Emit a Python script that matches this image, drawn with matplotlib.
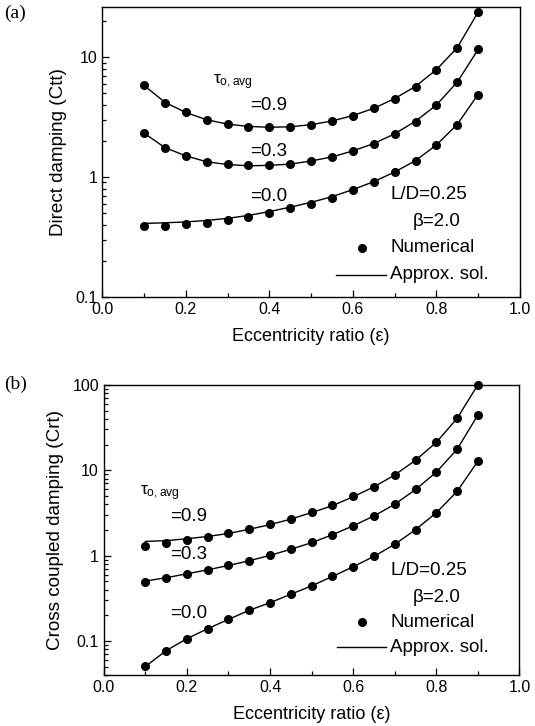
import numpy as np
import matplotlib
matplotlib.use('Agg')
import matplotlib.pyplot as plt
from matplotlib.ticker import MultipleLocator, LogLocator, NullFormatter

plt.rcParams['font.family'] = ['Liberation Sans', 'DejaVu Sans']
plt.rcParams['mathtext.fontset'] = 'custom'
plt.rcParams['mathtext.rm'] = 'Liberation Sans'
plt.rcParams['mathtext.it'] = 'Liberation Sans'

# eccentricity ratio
ecc = [0.1, 0.15, 0.2, 0.25, 0.3, 0.35, 0.4, 0.45, 0.5,
       0.55, 0.6, 0.65, 0.7, 0.75, 0.8, 0.85, 0.9]

# (a) direct damping Ctt - numerical points
ctt_09 = [5.82, 4.17, 3.45, 3.0, 2.75, 2.63, 2.60, 2.63, 2.73,
          2.92, 3.24, 3.73, 4.5, 5.68, 7.82, 11.9, 23.8]
ctt_03 = [2.32, 1.75, 1.50, 1.33, 1.28, 1.25, 1.26, 1.29, 1.36,
          1.47, 1.65, 1.90, 2.29, 2.90, 3.97, 6.15, 11.6]
ctt_00 = [0.387, 0.392, 0.404, 0.417, 0.44, 0.467, 0.50, 0.547, 0.601,
          0.673, 0.773, 0.906, 1.09, 1.36, 1.84, 2.72, 4.82]
# (a) approximate solution
ctt_09_ap = [5.8, 4.2, 3.45, 3.0, 2.76, 2.64, 2.60, 2.62, 2.73,
             2.93, 3.25, 3.74, 4.5, 5.7, 7.85, 12.0, 23.8]
ctt_03_ap = [2.32, 1.76, 1.50, 1.34, 1.27, 1.24, 1.25, 1.28, 1.36,
             1.47, 1.65, 1.90, 2.29, 2.92, 3.98, 6.2, 11.6]
ctt_00_ap = [0.41, 0.415, 0.422, 0.434, 0.452, 0.478, 0.515, 0.56, 0.615,
             0.685, 0.785, 0.915, 1.1, 1.37, 1.85, 2.75, 4.9]

# (b) cross coupled damping Crt - numerical points
crt_09 = [1.31, 1.41, 1.53, 1.67, 1.83, 2.06, 2.32, 2.70, 3.23,
          3.87, 4.94, 6.43, 8.81, 13.1, 21.2, 40.5, 100]
crt_03 = [0.499, 0.551, 0.614, 0.684, 0.769, 0.873, 1.02, 1.20, 1.43,
          1.77, 2.25, 2.93, 4.02, 5.98, 9.56, 17.7, 44.4]
crt_00 = [0.0508, 0.0777, 0.107, 0.140, 0.18, 0.23, 0.282, 0.354, 0.444,
          0.572, 0.743, 0.982, 1.36, 2.02, 3.18, 5.66, 12.8]
# (b) approximate solution
crt_09_ap = [1.47, 1.50, 1.58, 1.68, 1.82, 2.04, 2.31, 2.68, 3.2,
             3.85, 4.9, 6.4, 8.8, 13.1, 21.2, 40.5, 100]
crt_03_ap = [0.505, 0.553, 0.614, 0.684, 0.769, 0.873, 1.01, 1.19, 1.42,
             1.76, 2.24, 2.92, 4.0, 5.95, 9.5, 17.6, 44.4]
crt_00_ap = [0.0505, 0.0775, 0.107, 0.140, 0.18, 0.23, 0.282, 0.354, 0.444,
             0.572, 0.743, 0.982, 1.36, 2.02, 3.18, 5.66, 12.8]

fig = plt.figure(figsize=(5.35, 7.26), dpi=100)
ax1 = fig.add_axes([0.191, 0.591, 0.781, 0.399])
ax2 = fig.add_axes([0.194, 0.070, 0.777, 0.400])


def style(ax, ylim, ylabel):
    ax.set_yscale('log')
    ax.set_xlim(0, 1.0)
    ax.set_ylim(*ylim)
    ax.xaxis.set_major_locator(MultipleLocator(0.2))
    ax.xaxis.set_minor_locator(MultipleLocator(0.1))
    ax.yaxis.set_major_locator(LogLocator(base=10, numticks=10))
    ax.yaxis.set_minor_locator(LogLocator(base=10, subs=np.arange(2, 10), numticks=20))
    ax.yaxis.set_minor_formatter(NullFormatter())
    ax.tick_params(which='both', direction='in', top=False, right=False,
                   labelsize=11.5, width=0.9)
    ax.tick_params(which='major', length=5)
    ax.tick_params(which='minor', length=3)
    for s in ax.spines.values():
        s.set_linewidth(1.0)
    ax.set_xlabel(u'Eccentricity ratio (\u03b5)', fontsize=13, labelpad=8)
    ax.set_ylabel(ylabel, fontsize=13.6, labelpad=6)
    ax.xaxis.set_major_formatter(matplotlib.ticker.FormatStrFormatter('%.1f'))
    ax.yaxis.set_major_formatter(matplotlib.ticker.FuncFormatter(lambda v, p: ('%g' % v)))


def tau_text(ax, labels_xy, tau_xy):
    for txt, (x, y) in labels_xy:
        ax.text(x, y, txt, transform=ax.transAxes, fontsize=13.5, va='center')
    ax.text(tau_xy[0], tau_xy[1], r'$\tau_{\rm o,avg}$', transform=ax.transAxes,
            fontsize=12.5, va='center')


style(ax1, (0.1, 26), 'Direct damping (Ctt)')
for pts, ap in [(ctt_09, ctt_09_ap), (ctt_03, ctt_03_ap), (ctt_00, ctt_00_ap)]:
    ax1.plot(ecc, ap, color='black', lw=1.0)
    ax1.plot(ecc, pts, 'o', color='black', ms=5.5)
tau_text(ax1, [('=0.9', (0.354, 0.662)), ('=0.3', (0.354, 0.503)),
               ('=0.0', (0.354, 0.345))], (0.266, 0.741))

style(ax2, (0.04, 100), 'Cross coupled damping (Crt)')
for pts, ap in [(crt_09, crt_09_ap), (crt_03, crt_03_ap), (crt_00, crt_00_ap)]:
    ax2.plot(ecc, ap, color='black', lw=1.0, clip_on=False)
    ax2.plot(ecc, pts, 'o', color='black', ms=5.5, clip_on=False)
tau_text(ax2, [('=0.9', (0.159, 0.545)), ('=0.3', (0.159, 0.414)),
               ('=0.0', (0.159, 0.214))], (0.087, 0.628))

# parameter / legend block
for ax, ys in [(ax1, (0.352, 0.259, 0.169, 0.076)), (ax2, (0.362, 0.269, 0.183, 0.097))]:
    ax.text(0.689, ys[0], 'L/D=0.25', transform=ax.transAxes, fontsize=13.5, va='center')
    ax.text(0.744, ys[1], u'\u03b2=2.0', transform=ax.transAxes, fontsize=13.5, va='center')
    ax.plot([0.622], [ys[2]], 'o', color='black', ms=5.5, transform=ax.transAxes)
    ax.text(0.689, ys[2], 'Numerical', transform=ax.transAxes, fontsize=13.5, va='center')
    ax.plot([0.56, 0.68], [ys[3], ys[3]], color='black', lw=1.0, transform=ax.transAxes)
    ax.text(0.689, ys[3], 'Approx. sol.', transform=ax.transAxes, fontsize=13.5, va='center')

fig.text(0.008, 0.981, '(a)', family='Liberation Serif', fontsize=14, va='center')
fig.text(0.008, 0.470, '(b)', family='Liberation Serif', fontsize=14, va='center')

fig.savefig('out.png', dpi=100)
